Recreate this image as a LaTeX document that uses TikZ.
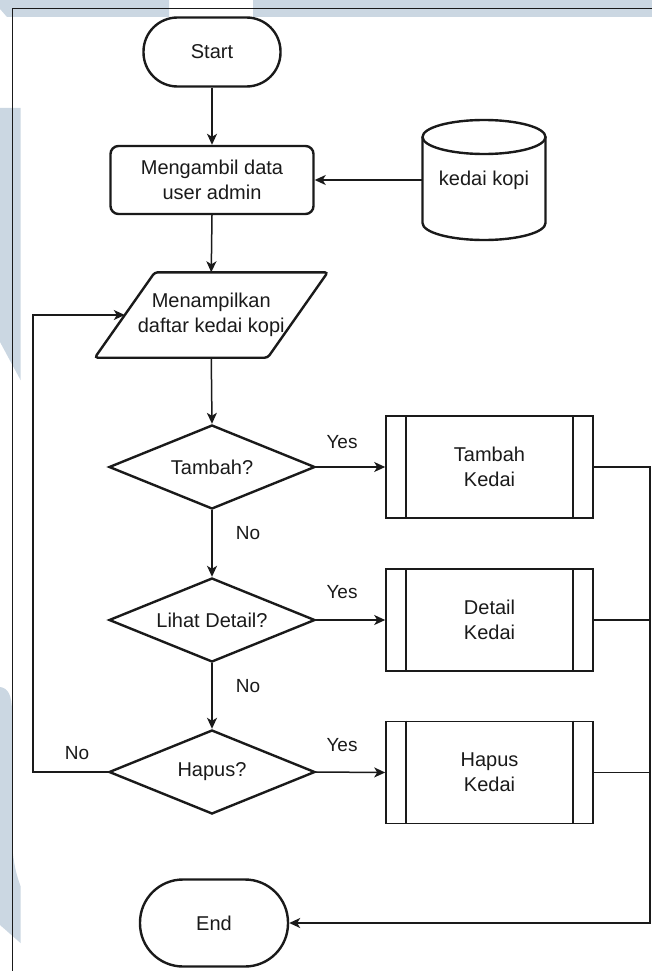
\documentclass[tikz,border=0pt]{standalone}
\usepackage{fontspec}
\setmainfont{Liberation Sans}
\usetikzlibrary{shapes.geometric,arrows.meta,calc}
\definecolor{wm}{RGB}{203,215,226}
\definecolor{ink}{RGB}{26,26,26}
\begin{document}
\begin{tikzpicture}[x=1pt,y=-1pt,
  every node/.style={font=\fontsize{20}{25}\selectfont, align=center, inner sep=0pt, text=ink},
  term/.style={draw=ink, line width=2.4pt, rectangle},
  proc/.style={draw=ink, line width=2.4pt, rectangle, rounded corners=8pt, minimum width=203pt, minimum height=68pt},
  dec/.style={draw=ink, line width=2.4pt, diamond, aspect=2.45, minimum width=206pt, minimum height=84pt},
  subr/.style={draw=ink, line width=1.6pt, rectangle, minimum width=207pt, minimum height=102pt},
  conn/.style={draw=ink, line width=1.5pt},
  arr/.style={conn, -{Stealth[length=11pt,width=10pt,inset=3pt]}},
  lbl/.style={font=\fontsize{19}{23}\selectfont}]
\useasboundingbox (0,0) rectangle (652,971);
% watermark background
\fill[wm] (0,0) -- (169,0) -- (169,17) -- (7,17) -- (0,9) -- cycle;
\fill[wm] (253,0) rectangle (652,17);
\fill[wm] (0,108) -- (20.5,108) -- (20.5,380) -- (0,342) -- cycle;
\fill[wm] (0,687) .. controls (8,688) and (12,695) .. (12,712) -- (12,835)
  .. controls (12,858) and (16,874) .. (20.5,886) -- (20.5,943) -- (0,925) -- cycle;
% frame
\draw[line width=1pt, ink] (12.5,971) -- (12.5,8.3) -- (652,8.3);

% nodes
\node[term, minimum width=137pt, minimum height=69pt, rounded corners=34pt] (st) at (212,52) {Start};
\node[proc] (mab) at (212,180) {Mengambil data\\user admin};
% cylinder
\node[minimum width=123pt, minimum height=120pt] (db) at (484,180) {kedai kopi};
\draw[ink, line width=2.4pt] (422.5,137) -- (422.5,223) arc[start angle=180, end angle=360, x radius=61.5pt, y radius=17pt] -- (545.5,137);
\draw[ink, line width=2.4pt] (484,137) ellipse[x radius=61.5pt, y radius=17pt];
% parallelogram
\node[minimum width=172.5pt, minimum height=85pt] (par) at (211.25,315) {Menampilkan\\daftar kedai kopi};
\draw[ink, line width=2.4pt, rounded corners=3pt] ([xshift=30pt]par.north west) -- ([xshift=30pt]par.north east)
  -- ([xshift=-30pt]par.south east) -- ([xshift=-30pt]par.south west) -- cycle;

\node[dec] (t1) at (212,467) {Tambah?};
\node[dec] (t2) at (212,620) {Lihat Detail?};
\node[dec] (t3) at (212,772) {Hapus?};

\node[subr] (s1) at (489.5,467) {Tambah\\Kedai};
\node[subr] (s2) at (489.5,620) {Detail\\Kedai};
\node[subr] (s3) at (489.5,772.5) {Hapus\\Kedai};
\foreach \s in {s1,s2,s3}{
  \draw[ink, line width=1.6pt] ([xshift=21pt]\s.north west) -- ([xshift=21pt]\s.south west);
  \draw[ink, line width=1.6pt] ([xshift=-21pt]\s.north east) -- ([xshift=-21pt]\s.south east);
}

\node[term, minimum width=148pt, minimum height=87pt, rounded corners=43pt] (en) at (214,923) {End};

% labels
\node[lbl] (y1) at (342,442) {Yes};
\node[lbl] (y2) at (342,592) {Yes};
\node[lbl] (y3) at (342,745) {Yes};
\node[lbl] (n1) at (248,533) {No};
\node[lbl] (n2) at (248,686) {No};
\node[lbl] (n3) at (77,753) {No};

% connectors
\coordinate (rt) at (650,923);
\draw[arr] (st.south) -- (mab.north);
\draw[arr] (db.west) -- (mab.east);
\draw[arr] (mab.south) -- (par.north);
\draw[arr] (par.south) -- (t1.north);
\draw[arr] (t1.east) -- (s1.west);
\draw[arr] (t1.south) -- (t2.north);
\draw[arr] (t2.east) -- (s2.west);
\draw[arr] (t2.south) -- (t3.north);
\draw[arr] (t3.east) -- (s3.west);
\draw[arr] (t3.west) -- ++(-75,0) |- (par.west);
\draw[arr] (s1.east) -| (rt) -- (en.east);
\draw[conn] (s2.east) -- (s2.east -| rt);
\draw[conn] (s3.east) -- (s3.east -| rt);
\end{tikzpicture}
\end{document}
